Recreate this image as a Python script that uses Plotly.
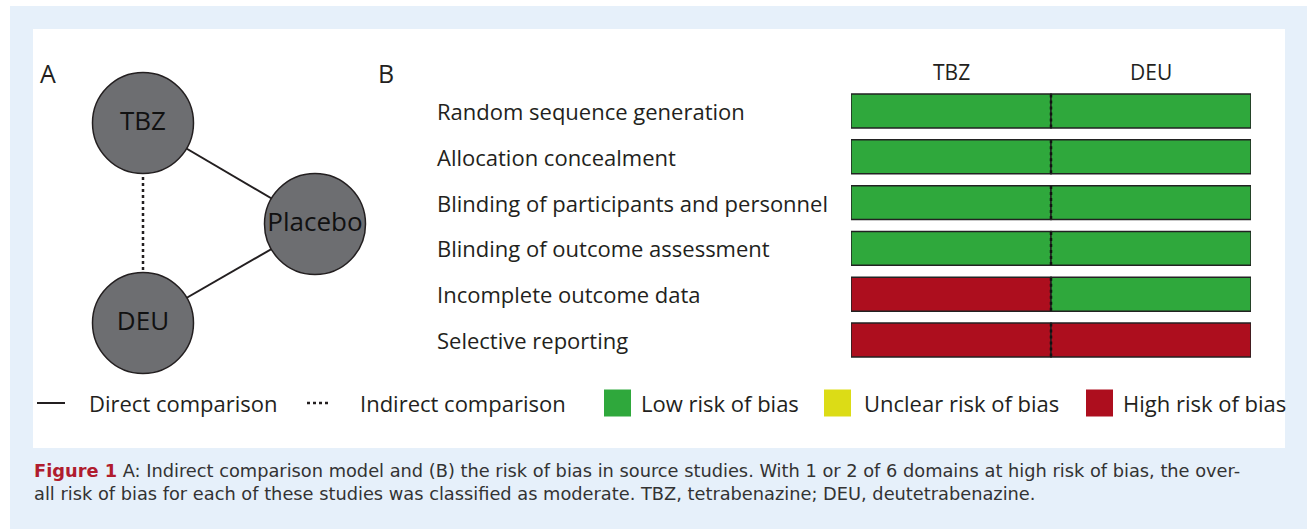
import plotly.graph_objects as go

W, H = 1311, 529

# ---------------- data ----------------
domains = [
    "Random sequence generation",
    "Allocation concealment",
    "Blinding of participants and personnel",
    "Blinding of outcome assessment",
    "Incomplete outcome data",
    "Selective reporting",
]
studies = ["TBZ", "DEU"]
tbz_judgement = ["Low", "Low", "Low", "Low", "High", "High"]
deu_judgement = ["Low", "Low", "Low", "Low", "Low", "High"]
judgement_labels = ["Low risk of bias", "Unclear risk of bias", "High risk of bias"]
judgement_keys = ["Low", "Unclear", "High"]

nodes = ["TBZ", "Placebo", "DEU"]
edges_direct = [("TBZ", "Placebo"), ("Placebo", "DEU")]
edges_indirect = [("TBZ", "DEU")]
edge_legend = ["Direct comparison", "Indirect comparison"]

caption_head = "Figure 1"
caption_line1 = ("A: Indirect comparison model and (B) the risk of bias in source studies. "
                 "With 1 or 2 of 6 domains at high risk of bias, the over-")
caption_line2 = ("all risk of bias for each of these studies was classified as moderate. "
                 "TBZ, tetrabenazine; DEU, deutetrabenazine.")

# ---------------- styles / layout ----------------
colors = {"Low": "#2fa83c", "Unclear": "#dcdc16", "High": "#ad0e1e"}
node_pos = {"TBZ": (143, 123), "Placebo": (315, 224), "DEU": (143, 323)}
FONT = "Open Sans"
FS = 22
TXT = "#231f20"


def px(x):
    return x / W


def py(y):
    return 1 - y / H


fig = go.Figure()

# ---- panel A: network (pixel canvas axes x/y) ----
for a, b in edges_direct:
    fig.add_trace(go.Scatter(x=[node_pos[a][0], node_pos[b][0]], y=[node_pos[a][1], node_pos[b][1]],
                             mode="lines", line=dict(color=TXT, width=2), showlegend=False,
                             hoverinfo="skip", xaxis="x", yaxis="y"))
for a, b in edges_indirect:
    fig.add_trace(go.Scatter(x=[node_pos[a][0], node_pos[b][0]], y=[node_pos[a][1], node_pos[b][1]],
                             mode="lines", line=dict(color=TXT, width=2.5, dash="dot"), showlegend=False,
                             hoverinfo="skip", xaxis="x", yaxis="y"))
fig.add_trace(go.Scatter(
    x=[node_pos[n][0] for n in nodes], y=[node_pos[n][1] for n in nodes],
    mode="markers+text", text=nodes, textposition="middle center",
    textfont=dict(family=FONT, size=26, color="#111111"),
    marker=dict(size=101, color="#6d6e71", line=dict(color=TXT, width=1.5)),
    showlegend=False, hoverinfo="skip", xaxis="x", yaxis="y"))

# ---- panel B: risk of bias bars ----
for s, judg in zip(studies, [tbz_judgement, deu_judgement]):
    base = studies.index(s)
    fig.add_trace(go.Bar(
        y=domains, x=[1] * len(domains), base=[base] * len(domains), orientation="h",
        marker=dict(color=[colors[j] for j in judg], line=dict(color="#222222", width=1.5)),
        width=0.74, name=s, showlegend=False, hoverinfo="skip",
        xaxis="x2", yaxis="y2"))

shapes = []
# background frames
shapes.append(dict(type="rect", xref="paper", yref="paper", x0=px(10), x1=px(1307), y0=0, y1=py(6),
                   fillcolor="#e6f0fa", line=dict(width=0), layer="below"))
shapes.append(dict(type="rect", xref="paper", yref="paper", x0=px(33), x1=px(1285), y0=py(448), y1=py(29),
                   fillcolor="#ffffff", line=dict(width=0), layer="below"))
# dotted divider between studies within each bar
for i, d in enumerate(domains):
    shapes.append(dict(type="line", xref="x2", yref="y2", x0=1, x1=1, y0=i - 0.36, y1=i + 0.36,
                       line=dict(color="#111111", width=2.5, dash="dot")))

annotations = []
for lab, xx in (("A", 48), ("B", 386)):
    annotations.append(dict(text=lab, x=px(xx), y=py(73), xref="paper", yref="paper", showarrow=False,
                            xanchor="center", yanchor="middle",
                            font=dict(family=FONT, size=25, color=TXT)))
for i, s in enumerate(studies):
    annotations.append(dict(text=s, x=i + 0.5, y=py(72), xref="x2", yref="paper", showarrow=False,
                            xanchor="center", yanchor="middle",
                            font=dict(family=FONT, size=21, color=TXT)))
for d in domains:
    annotations.append(dict(text=d, x=px(435), y=d, xref="paper", yref="y2", xanchor="left",
                            yanchor="middle", showarrow=False, font=dict(family=FONT, size=FS, color=TXT)))

# ---- legend row (manual) ----
LY = 403
shapes.append(dict(type="line", xref="paper", yref="paper", x0=px(37), x1=px(65), y0=py(LY), y1=py(LY),
                   line=dict(color=TXT, width=2)))
annotations.append(dict(text=edge_legend[0], x=px(87), y=py(LY), xref="paper", yref="paper",
                        xanchor="left", yanchor="middle", showarrow=False,
                        font=dict(family=FONT, size=FS, color=TXT)))
shapes.append(dict(type="line", xref="paper", yref="paper", x0=px(307), x1=px(331), y0=py(LY), y1=py(LY),
                   line=dict(color=TXT, width=2.5, dash="dot")))
annotations.append(dict(text=edge_legend[1], x=px(358), y=py(LY), xref="paper", yref="paper",
                        xanchor="left", yanchor="middle", showarrow=False,
                        font=dict(family=FONT, size=FS, color=TXT)))
sq_x = [604, 824, 1086]
tx_x = [639, 862, 1121]
for k, lab, sx, tx in zip(judgement_keys, judgement_labels, sq_x, tx_x):
    shapes.append(dict(type="rect", xref="paper", yref="paper", x0=px(sx), x1=px(sx + 27),
                       y0=py(LY + 13.5), y1=py(LY - 13.5), fillcolor=colors[k], line=dict(width=0)))
    annotations.append(dict(text=lab, x=px(tx), y=py(LY), xref="paper", yref="paper",
                            xanchor="left", yanchor="middle", showarrow=False,
                            font=dict(family=FONT, size=FS, color=TXT)))

# ---- caption ----
annotations.append(dict(
    text=f"<b><span style='color:#b01c2e'>{caption_head}</span></b> {caption_line1}<br>{caption_line2}",
    x=px(32), y=py(482), xref="paper", yref="paper", xanchor="left", yanchor="middle", align="left",
    showarrow=False, font=dict(family="DejaVu Sans", size=17.8, color="#333333")))

fig.update_layout(
    width=W, height=H, margin=dict(l=0, r=0, t=0, b=0),
    paper_bgcolor="#ffffff", plot_bgcolor="rgba(0,0,0,0)",
    xaxis=dict(range=[0, W], domain=[0, 1], visible=False, fixedrange=True),
    yaxis=dict(range=[H, 0], domain=[0, 1], visible=False, fixedrange=True),
    xaxis2=dict(range=[0, 2], domain=[px(851), px(1251)], visible=False, anchor="y2"),
    yaxis2=dict(type="category", categoryarray=domains, categoryorder="array",
                range=[len(domains) - 0.5, -0.5], domain=[py(362.9), py(88.1)], visible=False, anchor="x2"),
    shapes=shapes, annotations=annotations, showlegend=False, barmode="overlay",
)

fig.write_html("out.html", config={"displayModeBar": False},
               post_script="document.body.style.margin='0';")
